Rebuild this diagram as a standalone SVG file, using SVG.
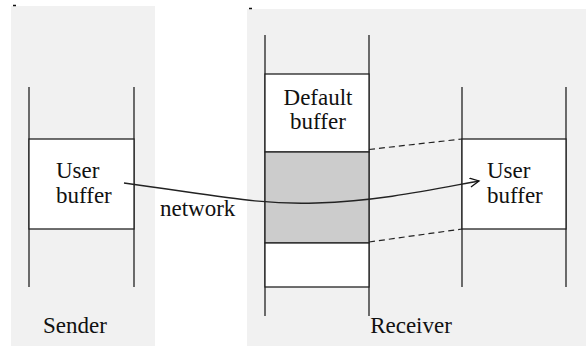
<svg xmlns="http://www.w3.org/2000/svg" width="586" height="346" viewBox="0 0 586 346">
<style>
.panel{fill:#f1f1f1;stroke:none}
.ln{stroke:#222;stroke-width:1.3;fill:none}
.box{fill:#fff;stroke:#222;stroke-width:1.3}
.gray{fill:#cccccc;stroke:#222;stroke-width:1.3}
.dash{stroke:#222;stroke-width:1.2;stroke-dasharray:6,4;fill:none}
.t{font-family:'Liberation Serif','Times New Roman',serif;font-size:23px;fill:#111}
</style>
<defs>
<marker id="arr" markerWidth="12" markerHeight="12" refX="10" refY="5" orient="auto" markerUnits="userSpaceOnUse">
<path d="M1,0.5 L10,5 L1,9.5" fill="none" stroke="#111" stroke-width="1.3"/>
</marker>
</defs>
<g id="sender-panel">
<rect class="panel" x="11" y="6" width="144" height="340"/>
<line x1="13" y1="5.5" x2="16" y2="5.5" stroke="#111" stroke-width="1.5"/>
<text class="t" x="75" y="333" text-anchor="middle">Sender</text>
</g>
<g id="receiver-panel">
<rect class="panel" x="247" y="9" width="339" height="337"/>
<line x1="249" y1="8.5" x2="252" y2="8.5" stroke="#111" stroke-width="1.5"/>
<text class="t" x="411" y="333" text-anchor="middle">Receiver</text>
</g>
<g id="sender-user-buffer">
<line class="ln" x1="29" y1="87" x2="29" y2="287"/>
<line class="ln" x1="134" y1="87" x2="134" y2="287"/>
<rect class="box" x="29" y="139" width="105" height="90"/>
<text class="t" x="56" y="178">User</text>
<text class="t" x="56" y="203">buffer</text>
</g>
<g id="default-buffer">
<line class="ln" x1="265" y1="35" x2="265" y2="316"/>
<line class="ln" x1="369" y1="35" x2="369" y2="316"/>
<rect class="box" x="265" y="74" width="104" height="78"/>
<rect class="gray" x="265" y="152" width="104" height="91"/>
<rect class="box" x="265" y="243" width="104" height="44"/>
<text class="t" x="318" y="105" text-anchor="middle">Default</text>
<text class="t" x="318" y="129" text-anchor="middle">buffer</text>
</g>
<g id="receiver-user-buffer">
<line class="ln" x1="462" y1="87" x2="462" y2="287"/>
<line class="ln" x1="566" y1="87" x2="566" y2="287"/>
<rect class="box" x="462" y="139" width="104" height="90"/>
<text class="t" x="487" y="178">User</text>
<text class="t" x="487" y="203">buffer</text>
</g>
<g id="connectors">
<line class="dash" x1="369" y1="149.5" x2="462" y2="139"/>
<line class="dash" x1="369" y1="242" x2="462" y2="229"/>
<path class="ln" d="M124,183 C220,196 260,205 316,203 C380,201 430,190 479,181" marker-end="url(#arr)"/>
<text class="t" x="160" y="216">network</text>
</g>
</svg>
